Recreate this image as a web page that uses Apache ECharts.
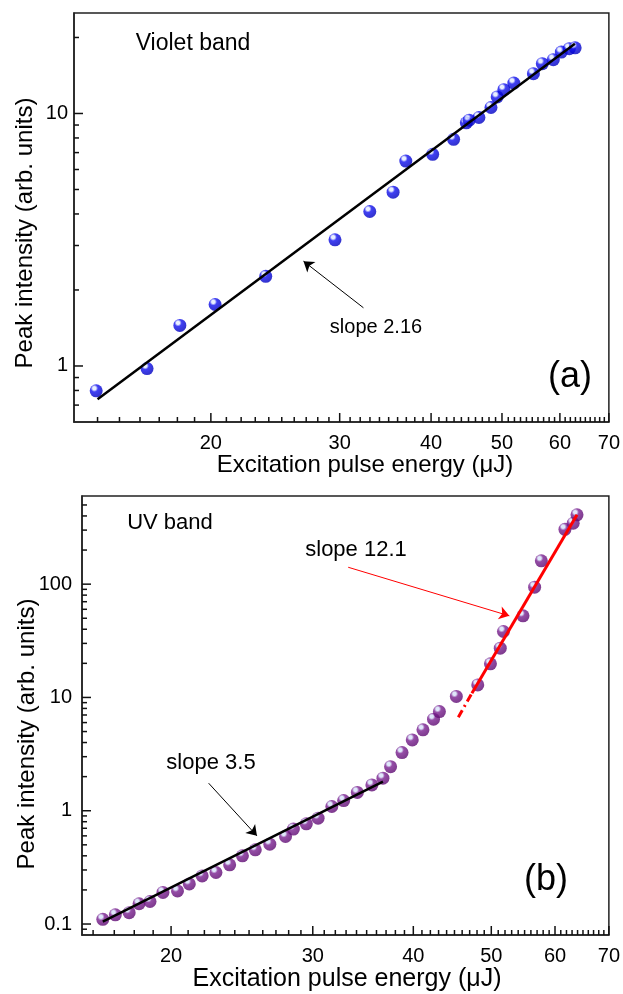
<!DOCTYPE html>
<html>
<head>
<meta charset="utf-8">
<script src="https://cdn.jsdelivr.net/npm/echarts@6/dist/echarts.min.js"></script>
<style>
html, body { margin: 0; padding: 0; background: #fff; }
#main { width: 623px; height: 994px; }
</style>
</head>
<body>
<div id="main"></div>
<script>
// (a) violet band
var violetX = [13.94, 16.36, 18.14, 20.27, 23.77, 29.56, 32.98, 35.49, 36.94, 40.2, 42.94, 44.69, 45.1, 46.5, 48.3, 49.25, 50.3, 51.9, 55.2, 56.77, 58.77, 60.27, 61.8, 62.95];
var violetY = [0.797, 0.977, 1.447, 1.752, 2.265, 3.16, 4.09, 4.88, 6.48, 6.89, 7.9, 9.18, 9.41, 9.64, 10.56, 11.63, 12.43, 13.2, 14.38, 15.75, 16.34, 17.5, 18.05, 18.2];
var violetFitX = [14.0, 62.9];
var violetFitY = [0.739, 18.9];
var violetArrow = [[32.33, 1.70], [26.77, 2.6]];

// (b) UV band
var uvX = [16.45, 17.05, 17.74, 18.25, 18.83, 19.54, 20.37, 21.07, 21.86, 22.74, 23.65, 24.53, 25.45, 26.53, 27.75, 28.38, 29.45, 30.46, 31.68, 32.77, 34.08, 35.53, 36.67, 37.48, 38.73, 39.88, 41.12, 42.38, 43.1, 45.24, 48.1, 49.88, 51.3, 51.77, 54.75, 56.6, 57.7, 61.73, 63.2, 63.9];
var uvY = [0.11, 0.1205, 0.126, 0.151, 0.158, 0.19, 0.196, 0.226, 0.266, 0.285, 0.333, 0.40, 0.452, 0.507, 0.592, 0.689, 0.766, 0.86, 1.09, 1.23, 1.45, 1.69, 1.94, 2.45, 3.26, 4.22, 5.18, 6.43, 7.51, 10.2, 12.9, 19.8, 27.2, 38.2, 52.5, 94.1, 160.6, 305, 345, 409];
var uvLowFitX = [16.45, 36.67];
var uvLowFitY = [0.105, 1.81];
var uvHighFitX = [47.3, 63.9];
var uvHighFitY = [10.9, 409];
var uvExtX = [45.5, 47.3];
var uvExtY = [6.7, 10.9];
var uvLowArrow = [[22.27, 1.75], [25.57, 0.60]];
var uvHighArrow = [[33.2, 141], [52.65, 52.5]];

// axis ranges and ticks
var rangeXA = [13, 70], rangeYA = [0.6, 25];
var rangeXB = [15.5, 70], rangeYB = [0.08, 600];
var xMajor = [20, 30, 40, 50, 60, 70];
var xMinorA = [14, 15, 16, 17, 18, 19, 21, 22, 23, 24, 25, 26, 27, 28, 29, 31, 32, 33, 34, 35, 36, 37, 38, 39,
               41, 42, 43, 44, 45, 46, 47, 48, 49, 51, 52, 53, 54, 55, 56, 57, 58, 59, 61, 62, 63, 64, 65, 66, 67, 68, 69];
var xMinorB = xMinorA.slice(2);
var yMajorA = [1, 10];
var yMinorA = [0.7, 0.8, 0.9, 2, 3, 4, 5, 6, 7, 8, 9, 20];
var yMajorB = [0.1, 1, 10, 100];
var yMinorB = [0.09, 0.2, 0.3, 0.4, 0.5, 0.6, 0.7, 0.8, 0.9, 2, 3, 4, 5, 6, 7, 8, 9,
               20, 30, 40, 50, 60, 70, 80, 90, 200, 300, 400, 500];

var FONT = '"Liberation Sans", Arial, sans-serif';

function pairs(xs, ys) {
    return xs.map(function (x, i) { return [x, ys[i]]; });
}

function ball(light, mid, dark) {
    return new echarts.graphic.RadialGradient(0.36, 0.3, 0.7, [
        { offset: 0, color: light },
        { offset: 0.18, color: light },
        { offset: 0.4, color: mid },
        { offset: 1, color: dark }
    ]);
}

function axis(grid, range, labels, margin) {
    return {
        type: 'log', gridIndex: grid, min: range[0], max: range[1],
        axisLine: { show: true, lineStyle: { color: '#222', width: 1.5 } },
        axisTick: { show: false },
        axisLabel: { show: true, customValues: labels, margin: margin, color: '#000', fontSize: 20, fontFamily: FONT },
        splitLine: { show: false }
    };
}

// inward tick marks, placed through the axis scales
function ticks(idx, dim, values, base, len) {
    return {
        type: 'custom', xAxisIndex: idx, yAxisIndex: idx, silent: true, z: 5, clip: false,
        data: values.map(function (v) { return dim === 'x' ? [v, base] : [base, v]; }),
        renderItem: function (params, api) {
            var p = api.coord([api.value(0), api.value(1)]);
            return {
                type: 'line',
                shape: { x1: p[0], y1: p[1], x2: dim === 'x' ? p[0] : p[0] + len, y2: dim === 'x' ? p[1] - len : p[1] },
                style: { stroke: '#111', lineWidth: 1.5 }
            };
        }
    };
}

function arrowLine(pts, color) {
    return {
        silent: true,
        symbol: ['none', 'arrow'],
        symbolSize: 10,
        label: { show: false },
        lineStyle: { color: color, width: 1, type: 'solid' },
        emphasis: { disabled: true },
        data: [[{ coord: pts[0] }, { coord: pts[1] }]]
    };
}

function text(t, x, y, size, rot) {
    return {
        type: 'text', x: x, y: y, rotation: rot || 0, silent: true,
        style: { text: t, font: size + 'px ' + FONT, fill: '#000',
                 textAlign: 'center', textVerticalAlign: 'middle', align: 'center', verticalAlign: 'middle' }
    };
}

var chart = echarts.init(document.getElementById('main'));

var option = {
    backgroundColor: '#fff',
    animation: false,
    grid: [
        { left: 74, top: 13, width: 538, height: 409, show: true, borderColor: '#222', borderWidth: 1.5 },
        { left: 82, top: 496, width: 530, height: 439, show: true, borderColor: '#222', borderWidth: 1.5 }
    ],
    xAxis: [axis(0, rangeXA, xMajor, 11), axis(1, rangeXB, xMajor, 11)],
    yAxis: [axis(0, rangeYA, yMajorA, 6), axis(1, rangeYB, yMajorB, 10)],
    graphic: [
        text('Violet band', 193, 44, 23),
        text('slope 2.16', 376, 327, 20),
        text('(a)', 570, 377, 36),
        text('Peak intensity (arb. units)', 25, 233, 24, Math.PI / 2),
        text('Excitation pulse energy (\u03bcJ)', 365, 465, 24),
        text('UV band', 170, 523, 22),
        text('slope 12.1', 356, 550, 22),
        text('slope 3.5', 211, 763, 22),
        text('(b)', 546, 880, 36),
        text('Peak intensity (arb. units)', 27, 734, 24, Math.PI / 2),
        text('Excitation pulse energy (\u03bcJ)', 347, 979, 25)
    ],
    series: [
        ticks(0, 'x', xMajor, rangeYA[0], 9),
        ticks(0, 'x', xMinorA, rangeYA[0], 5),
        ticks(0, 'y', yMajorA, rangeXA[0], 9),
        ticks(0, 'y', yMinorA, rangeXA[0], 5),
        ticks(1, 'x', xMajor, rangeYB[0], 9),
        ticks(1, 'x', xMinorB, rangeYB[0], 5),
        ticks(1, 'y', yMajorB, rangeXB[0], 9),
        ticks(1, 'y', yMinorB, rangeXB[0], 5),
        {
            type: 'scatter', xAxisIndex: 0, yAxisIndex: 0, z: 2,
            symbolSize: 13,
            itemStyle: { color: ball('#e4ecff', '#1010f0', '#0000c0') },
            data: pairs(violetX, violetY)
        },
        {
            type: 'line', xAxisIndex: 0, yAxisIndex: 0, z: 3,
            showSymbol: false, symbol: 'none',
            lineStyle: { color: '#000', width: 2.5 },
            data: pairs(violetFitX, violetFitY),
            markLine: arrowLine(violetArrow, '#000')
        },
        {
            type: 'scatter', xAxisIndex: 1, yAxisIndex: 1, z: 2,
            symbolSize: 13,
            itemStyle: { color: ball('#d8e2fa', '#7a2090', '#5e0a72') },
            data: pairs(uvX, uvY)
        },
        {
            type: 'line', xAxisIndex: 1, yAxisIndex: 1, z: 3,
            showSymbol: false, symbol: 'none',
            lineStyle: { color: '#000', width: 2.5 },
            data: pairs(uvLowFitX, uvLowFitY),
            markLine: arrowLine(uvLowArrow, '#000')
        },
        {
            type: 'line', xAxisIndex: 1, yAxisIndex: 1, z: 3,
            showSymbol: false, symbol: 'none',
            lineStyle: { color: '#f00', width: 3 },
            data: pairs(uvHighFitX, uvHighFitY),
            markLine: arrowLine(uvHighArrow, '#f00')
        },
        {
            type: 'line', xAxisIndex: 1, yAxisIndex: 1, z: 3,
            showSymbol: false, symbol: 'none',
            lineStyle: { color: '#f00', width: 3, type: [8, 4, 2, 4] },
            data: pairs(uvExtX, uvExtY)
        }
    ]
};

chart.setOption(option);
</script>
</body>
</html>
